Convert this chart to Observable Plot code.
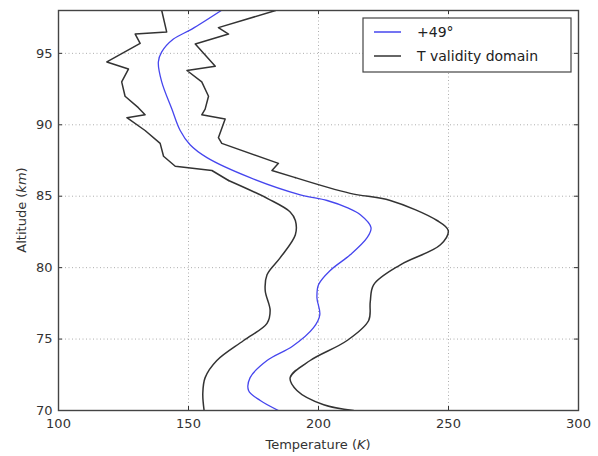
<!DOCTYPE html>
<html><head><meta charset="utf-8">
<script src="https://cdn.jsdelivr.net/npm/d3@7"></script>
<script src="https://cdn.jsdelivr.net/npm/@observablehq/plot@0.6"></script>
<style>body{margin:0;background:#fff}</style>
</head><body><div id="chart"></div>
<script>
const xTicks = [100, 150, 200, 250, 300];
const yTicks = [70, 75, 80, 85, 90, 95];
const seriesNames = ["+49°", "T validity domain"];

// +49° temperature profile
const blueAlt = [98.0, 96.7, 96.0, 95.1, 94.4, 93.0, 91.1, 89.6, 88.6, 87.7, 86.3, 85.1, 84.7, 84.2, 83.7, 82.8, 82.1, 80.9, 79.8, 78.8, 77.9, 76.7, 75.8, 74.5, 73.5, 72.3, 71.4, 70.7, 70.0];
const blueT   = [162.6, 151.3, 144.2, 139.7, 138.4, 139.7, 143.6, 146.8, 150.6, 157.1, 173.7, 193.0, 203.3, 211.0, 216.1, 220.2, 218.7, 212.2, 204.5, 200.0, 199.4, 200.5, 198.1, 190.0, 180.2, 173.7, 173.1, 177.6, 184.6];

// T validity domain, lower bound
const lowAlt = [98.0, 96.5, 96.35, 95.7, 94.4, 93.9, 93.0, 92.0, 91.2, 90.7, 90.5, 89.6, 88.7, 87.8, 87.1, 86.8, 86.1, 84.8, 83.9, 83.3, 82.3, 80.7, 79.5, 78.4, 77.0, 76.1, 74.9, 73.5, 72.3, 71.2, 70.0];
const lowT   = [139.7, 141.6, 129.5, 131.4, 118.6, 126.9, 124.3, 125.6, 130.7, 133.3, 126.3, 133.3, 139.1, 140.4, 144.9, 159.0, 165.4, 180.8, 189.1, 191.1, 191.1, 185.3, 180.2, 179.5, 181.4, 180.2, 171.2, 160.9, 156.4, 155.5, 156.0];

// T validity domain, upper bound
const highAlt = [98.0, 96.8, 96.35, 95.65, 94.1, 93.8, 93.0, 92.0, 91.1, 90.7, 90.4, 89.1, 88.7, 87.3, 86.8, 86.3, 85.2, 84.7, 83.3, 82.6, 81.6, 80.2, 78.8, 77.6, 76.3, 74.9, 73.5, 72.3, 71.4, 70.4, 70.0];
const highT   = [183.5, 161.5, 165.4, 152.6, 160.3, 149.4, 155.1, 157.7, 156.4, 155.1, 164.1, 161.5, 162.8, 184.6, 182.1, 191.1, 212.2, 227.6, 245.6, 249.9, 246.9, 231.5, 221.2, 219.9, 219.3, 211.0, 196.8, 189.1, 191.7, 202.0, 213.5];

// altitude above which the validity-domain bounds are jagged (straight segments)
const lowJaggedFrom = 86.1, highJaggedFrom = 86.3;

const W = 598, H = 456, mL = 58, mR = 20, mT = 10, mB = 46;
const pw = W - mL - mR, ph = H - mT - mB;
const toPts = (alt, T) => alt.map((a, i) => ({alt: a, T: T[i]}));
const blueColor = "#4646ee", blackColor = "#333";
const lowPts = toPts(lowAlt, lowT), highPts = toPts(highAlt, highT);
const boundStyle = {x: "T", y: "alt", stroke: blackColor, strokeWidth: 1.5, clip: true};

const chart = Plot.plot({
  width: W, height: H,
  marginLeft: mL, marginRight: mR, marginTop: mT, marginBottom: mB,
  style: {fontFamily: "DejaVu Sans", fontSize: "13px", color: "#333", background: "#fff"},
  x: {domain: [100, 300]},
  y: {domain: [70, 98]},
  marks: [
    Plot.gridX(xTicks, {stroke: "#999", strokeOpacity: 1, strokeDasharray: "1,2.5", strokeWidth: 0.8}),
    Plot.gridY(yTicks, {stroke: "#999", strokeOpacity: 1, strokeDasharray: "1,2.5", strokeWidth: 0.8}),
    Plot.line(lowPts.filter(d => d.alt >= lowJaggedFrom), {...boundStyle, curve: "linear"}),
    Plot.line(lowPts.filter(d => d.alt <= lowJaggedFrom), {...boundStyle, curve: "catmull-rom"}),
    Plot.line(highPts.filter(d => d.alt >= highJaggedFrom), {...boundStyle, curve: "linear"}),
    Plot.line(highPts.filter(d => d.alt <= highJaggedFrom), {...boundStyle, curve: "catmull-rom"}),
    Plot.line(toPts(blueAlt, blueT), {x: "T", y: "alt", stroke: blueColor, strokeWidth: 1.3, curve: "catmull-rom", clip: true}),
    Plot.ruleY(yTicks, {y: d => d, insetRight: pw - 4, stroke: "#333"}),
    Plot.ruleY(yTicks, {y: d => d, insetLeft: pw - 4, stroke: "#333"}),
    Plot.ruleX(xTicks, {x: d => d, insetTop: ph - 4, stroke: "#333"}),
    Plot.ruleX(xTicks, {x: d => d, insetBottom: ph - 4, stroke: "#333"}),
    Plot.frame({stroke: "#444", strokeWidth: 1.4}),
    Plot.axisX({ticks: xTicks, tickSize: 0, tickPadding: 8, label: null}),
    Plot.axisY({ticks: yTicks, tickSize: 0, tickPadding: 6, label: null})
  ]
});

const svg = d3.select(chart);
// axis labels
const xl = svg.append("text").attr("x", mL + pw / 2).attr("y", 449).attr("text-anchor", "middle")
  .attr("fill", "#333").attr("font-size", 13);
xl.append("tspan").text("Temperature (");
xl.append("tspan").attr("font-style", "italic").text("K");
xl.append("tspan").text(")");
const yl = svg.append("text").attr("transform", `translate(21.5,${mT + ph / 2}) rotate(-90)`)
  .attr("text-anchor", "middle").attr("dy", "0.35em").attr("fill", "#333").attr("font-size", 13);
yl.append("tspan").text("Altitude (");
yl.append("tspan").attr("font-style", "italic").text("km");
yl.append("tspan").text(")");

// legend
const lg = svg.append("g");
lg.append("rect").attr("x", 363).attr("y", 18).attr("width", 208).attr("height", 54)
  .attr("fill", "#fff").attr("stroke", "#444").attr("stroke-width", 1.2);
const legendColors = [blueColor, blackColor];
seriesNames.forEach((name, i) => {
  const y = 32 + i * 24;
  lg.append("line").attr("x1", 374).attr("x2", 401).attr("y1", y).attr("y2", y)
    .attr("stroke", legendColors[i]).attr("stroke-width", 1.5);
  lg.append("text").attr("x", 417).attr("y", y).attr("dy", "0.35em").attr("font-size", 14)
    .attr("text-anchor", "start").attr("fill", "#222").text(name);
});

document.getElementById("chart").appendChild(chart);
</script>
</body></html>
